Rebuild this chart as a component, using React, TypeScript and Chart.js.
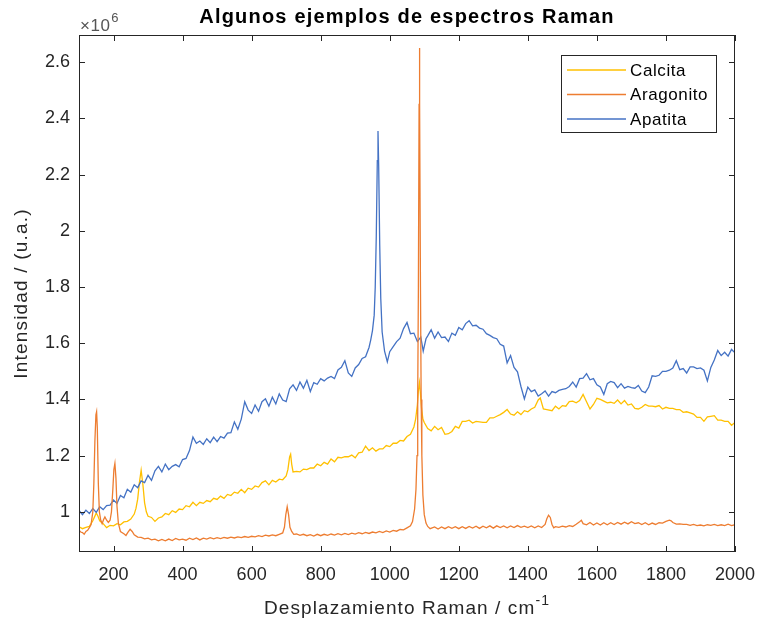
import React, { useEffect, useRef } from "react";
import { Chart, registerables } from "chart.js";

Chart.register(...registerables);

// Raman shift (cm^-1) and intensity (x10^6 a.u.) pairs
const calcita: [number, number][] = [
  [100, 0.947], [110, 0.94], [120, 0.945], [130, 0.948], [140, 0.968], [145, 0.982], [150, 0.996], [155, 0.984],
  [160, 0.968], [170, 0.958], [180, 0.944], [190, 0.952], [200, 0.95], [210, 0.958], [220, 0.954], [230, 0.964],
  [240, 0.966], [250, 0.974], [260, 0.992], [265, 1.012], [270, 1.045], [275, 1.105], [280, 1.148], [285, 1.098],
  [290, 1.032], [295, 1.0], [300, 0.984], [310, 0.98], [320, 0.966], [330, 0.978], [340, 0.982], [350, 0.994],
  [360, 0.99], [370, 1.004], [380, 0.998], [390, 1.01], [400, 1.008], [410, 1.022], [420, 1.018], [430, 1.034],
  [440, 1.022], [450, 1.034], [460, 1.03], [470, 1.04], [480, 1.036], [490, 1.048], [500, 1.044], [510, 1.056],
  [520, 1.048], [530, 1.062], [540, 1.058], [550, 1.07], [560, 1.066], [570, 1.08], [580, 1.068], [590, 1.084],
  [600, 1.08], [610, 1.092], [620, 1.088], [630, 1.104], [640, 1.11], [650, 1.096], [660, 1.112], [670, 1.106],
  [680, 1.116], [690, 1.114], [700, 1.128], [705, 1.15], [710, 1.195], [713, 1.205], [716, 1.17], [720, 1.142],
  [730, 1.144], [740, 1.142], [750, 1.152], [760, 1.15], [770, 1.156], [780, 1.156], [790, 1.17], [800, 1.164],
  [810, 1.176], [820, 1.17], [830, 1.188], [840, 1.178], [850, 1.194], [860, 1.192], [870, 1.196], [880, 1.196],
  [890, 1.202], [900, 1.192], [910, 1.21], [920, 1.212], [930, 1.234], [940, 1.218], [950, 1.228], [960, 1.216],
  [970, 1.224], [980, 1.224], [990, 1.236], [1000, 1.232], [1010, 1.244], [1020, 1.244], [1030, 1.254], [1040, 1.252],
  [1050, 1.268], [1060, 1.276], [1070, 1.302], [1075, 1.33], [1080, 1.38], [1083, 1.43], [1086, 1.46], [1089, 1.42],
  [1092, 1.37], [1096, 1.33], [1100, 1.318], [1110, 1.296], [1120, 1.288], [1130, 1.304], [1140, 1.292], [1150, 1.3],
  [1160, 1.276], [1170, 1.278], [1180, 1.286], [1190, 1.304], [1200, 1.298], [1210, 1.322], [1220, 1.322], [1230, 1.326],
  [1240, 1.316], [1250, 1.322], [1260, 1.32], [1270, 1.318], [1280, 1.318], [1290, 1.334], [1300, 1.334], [1310, 1.34],
  [1320, 1.346], [1330, 1.354], [1340, 1.364], [1350, 1.348], [1360, 1.344], [1370, 1.356], [1380, 1.346], [1390, 1.36],
  [1400, 1.356], [1410, 1.366], [1420, 1.372], [1430, 1.398], [1436, 1.405], [1445, 1.366], [1455, 1.364], [1470, 1.36],
  [1480, 1.376], [1490, 1.366], [1500, 1.378], [1510, 1.376], [1520, 1.392], [1530, 1.394], [1540, 1.388], [1550, 1.396],
  [1560, 1.418], [1570, 1.392], [1580, 1.366], [1590, 1.382], [1600, 1.404], [1610, 1.4], [1620, 1.394], [1630, 1.388],
  [1640, 1.39], [1650, 1.386], [1660, 1.398], [1670, 1.384], [1680, 1.396], [1690, 1.38], [1700, 1.384], [1710, 1.368],
  [1720, 1.366], [1730, 1.372], [1740, 1.382], [1750, 1.376], [1760, 1.376], [1770, 1.374], [1780, 1.378], [1790, 1.366],
  [1800, 1.372], [1810, 1.368], [1820, 1.368], [1830, 1.364], [1840, 1.364], [1850, 1.354], [1860, 1.356], [1870, 1.352],
  [1880, 1.348], [1890, 1.336], [1900, 1.336], [1910, 1.322], [1920, 1.338], [1930, 1.34], [1940, 1.342], [1950, 1.326],
  [1960, 1.326], [1970, 1.322], [1980, 1.322], [1990, 1.308], [2000, 1.318],
];

const aragonito: [number, number][] = [
  [100, 0.935], [105, 0.928], [110, 0.926], [115, 0.92], [120, 0.93], [125, 0.934], [130, 0.944], [135, 0.955],
  [140, 1.0], [143, 1.1], [146, 1.25], [149, 1.345], [151, 1.356], [153, 1.3], [156, 1.1], [159, 1.0],
  [163, 0.97], [167, 0.958], [171, 0.972], [175, 0.982], [180, 0.97], [185, 0.962], [190, 0.97], [194, 1.0],
  [198, 1.08], [201, 1.15], [204, 1.172], [207, 1.12], [210, 1.02], [214, 0.96], [220, 0.93], [230, 0.922],
  [236, 0.916], [242, 0.928], [248, 0.938], [254, 0.93], [260, 0.918], [270, 0.91], [280, 0.909], [290, 0.904],
  [300, 0.906], [310, 0.9], [320, 0.903], [330, 0.897], [340, 0.902], [350, 0.897], [360, 0.903], [370, 0.898],
  [380, 0.905], [390, 0.9], [400, 0.903], [410, 0.899], [420, 0.906], [430, 0.901], [440, 0.907], [450, 0.9],
  [460, 0.906], [470, 0.903], [480, 0.908], [490, 0.904], [500, 0.908], [510, 0.905], [520, 0.909], [530, 0.906],
  [540, 0.91], [550, 0.907], [560, 0.911], [570, 0.908], [580, 0.912], [590, 0.909], [600, 0.913], [610, 0.911],
  [620, 0.915], [630, 0.912], [640, 0.917], [650, 0.914], [660, 0.918], [670, 0.915], [680, 0.92], [690, 0.925],
  [695, 0.945], [699, 0.99], [703, 1.018], [707, 0.99], [711, 0.945], [716, 0.93], [722, 0.92], [730, 0.921],
  [740, 0.916], [750, 0.92], [760, 0.915], [770, 0.919], [780, 0.914], [790, 0.92], [800, 0.915], [810, 0.92],
  [820, 0.916], [830, 0.921], [840, 0.917], [850, 0.922], [860, 0.918], [870, 0.923], [880, 0.919], [890, 0.924],
  [900, 0.921], [910, 0.926], [920, 0.922], [930, 0.927], [940, 0.923], [950, 0.928], [960, 0.925], [970, 0.93],
  [980, 0.926], [990, 0.932], [1000, 0.928], [1010, 0.934], [1020, 0.931], [1030, 0.937], [1040, 0.936], [1050, 0.943],
  [1060, 0.95], [1066, 0.965], [1072, 1.01], [1076, 1.08], [1079, 1.2], [1081, 1.4], [1083, 1.8], [1085, 2.45],
  [1086, 2.651], [1087, 2.45], [1089, 1.8], [1091, 1.4], [1093, 1.2], [1096, 1.06], [1100, 0.99], [1105, 0.96],
  [1110, 0.948], [1117, 0.94], [1130, 0.946], [1140, 0.939], [1150, 0.946], [1160, 0.94], [1170, 0.947], [1180, 0.941],
  [1190, 0.947], [1200, 0.94], [1210, 0.947], [1220, 0.941], [1230, 0.948], [1240, 0.942], [1250, 0.949], [1260, 0.941],
  [1270, 0.949], [1280, 0.943], [1290, 0.95], [1300, 0.942], [1310, 0.95], [1320, 0.944], [1330, 0.95], [1340, 0.943],
  [1350, 0.95], [1360, 0.944], [1370, 0.951], [1380, 0.945], [1390, 0.949], [1400, 0.944], [1410, 0.95], [1420, 0.943],
  [1430, 0.95], [1440, 0.944], [1450, 0.955], [1455, 0.975], [1460, 0.988], [1465, 0.98], [1470, 0.955], [1475, 0.943],
  [1480, 0.947], [1490, 0.945], [1500, 0.949], [1510, 0.946], [1520, 0.951], [1530, 0.948], [1540, 0.956], [1550, 0.965],
  [1555, 0.97], [1560, 0.958], [1570, 0.954], [1580, 0.962], [1590, 0.953], [1600, 0.96], [1610, 0.953], [1620, 0.961],
  [1630, 0.954], [1640, 0.961], [1650, 0.955], [1660, 0.962], [1670, 0.956], [1680, 0.963], [1690, 0.957], [1700, 0.965],
  [1710, 0.958], [1720, 0.961], [1730, 0.955], [1740, 0.961], [1750, 0.954], [1760, 0.96], [1770, 0.955], [1780, 0.961],
  [1790, 0.96], [1800, 0.966], [1810, 0.97], [1815, 0.968], [1820, 0.962], [1830, 0.956], [1840, 0.957], [1850, 0.955],
  [1860, 0.955], [1870, 0.952], [1880, 0.955], [1890, 0.951], [1900, 0.953], [1910, 0.95], [1920, 0.954], [1930, 0.952],
  [1940, 0.955], [1950, 0.951], [1960, 0.954], [1970, 0.951], [1980, 0.956], [1990, 0.951], [2000, 0.954],
];

const apatita: [number, number][] = [
  [100, 1.005], [110, 0.99], [120, 1.006], [130, 0.994], [140, 1.012], [150, 0.998], [160, 1.018], [170, 1.008],
  [180, 1.022], [190, 1.024], [200, 1.042], [210, 1.03], [220, 1.058], [230, 1.05], [240, 1.08], [250, 1.07],
  [260, 1.096], [270, 1.086], [280, 1.11], [290, 1.104], [300, 1.13], [310, 1.112], [320, 1.146], [330, 1.162],
  [340, 1.142], [350, 1.17], [360, 1.15], [370, 1.162], [380, 1.168], [390, 1.16], [400, 1.186], [410, 1.19],
  [420, 1.218], [430, 1.266], [440, 1.244], [450, 1.252], [460, 1.24], [470, 1.26], [480, 1.246], [490, 1.266],
  [500, 1.25], [510, 1.268], [520, 1.262], [530, 1.28], [540, 1.282], [550, 1.32], [560, 1.294], [570, 1.33],
  [580, 1.392], [590, 1.362], [600, 1.35], [610, 1.38], [620, 1.358], [630, 1.392], [640, 1.402], [650, 1.376],
  [660, 1.408], [670, 1.384], [680, 1.42], [690, 1.398], [700, 1.392], [710, 1.438], [720, 1.452], [730, 1.432],
  [740, 1.462], [750, 1.44], [760, 1.468], [770, 1.428], [780, 1.46], [790, 1.454], [800, 1.474], [810, 1.466],
  [820, 1.476], [830, 1.482], [840, 1.474], [850, 1.505], [860, 1.514], [870, 1.538], [880, 1.494], [890, 1.482],
  [900, 1.512], [910, 1.524], [920, 1.546], [930, 1.552], [940, 1.585], [945, 1.612], [950, 1.645], [955, 1.7],
  [958, 1.8], [961, 1.98], [964, 2.25], [966, 2.355], [968, 2.23], [971, 1.95], [974, 1.76], [978, 1.64],
  [985, 1.572], [993, 1.534], [1000, 1.57], [1010, 1.588], [1020, 1.606], [1030, 1.618], [1040, 1.652], [1050, 1.674],
  [1060, 1.634], [1070, 1.636], [1080, 1.606], [1090, 1.622], [1097, 1.572], [1105, 1.616], [1110, 1.626], [1120, 1.648],
  [1130, 1.618], [1140, 1.64], [1150, 1.62], [1160, 1.622], [1170, 1.606], [1180, 1.636], [1190, 1.628], [1200, 1.656],
  [1210, 1.648], [1220, 1.67], [1230, 1.68], [1240, 1.662], [1250, 1.664], [1260, 1.654], [1270, 1.65], [1280, 1.634],
  [1290, 1.628], [1300, 1.62], [1310, 1.616], [1320, 1.596], [1330, 1.59], [1340, 1.53], [1350, 1.556], [1360, 1.514],
  [1370, 1.498], [1380, 1.446], [1390, 1.402], [1400, 1.444], [1410, 1.428], [1420, 1.434], [1430, 1.412], [1440, 1.42],
  [1450, 1.43], [1460, 1.412], [1470, 1.428], [1480, 1.424], [1490, 1.432], [1500, 1.436], [1510, 1.438], [1520, 1.446],
  [1530, 1.462], [1540, 1.444], [1550, 1.474], [1560, 1.476], [1570, 1.492], [1580, 1.47], [1590, 1.474], [1600, 1.452],
  [1610, 1.444], [1620, 1.418], [1630, 1.456], [1640, 1.464], [1650, 1.46], [1660, 1.442], [1670, 1.456], [1680, 1.44],
  [1690, 1.446], [1700, 1.442], [1710, 1.44], [1720, 1.45], [1730, 1.43], [1740, 1.424], [1750, 1.444], [1760, 1.484],
  [1770, 1.482], [1780, 1.486], [1790, 1.5], [1800, 1.5], [1810, 1.504], [1820, 1.512], [1830, 1.538], [1840, 1.506],
  [1850, 1.51], [1860, 1.494], [1870, 1.516], [1880, 1.516], [1890, 1.51], [1900, 1.512], [1910, 1.504], [1920, 1.466],
  [1930, 1.514], [1940, 1.54], [1950, 1.574], [1960, 1.556], [1970, 1.568], [1980, 1.554], [1990, 1.578], [2000, 1.566],
];

const xTicks = [200, 400, 600, 800, 1000, 1200, 1400, 1600, 1800, 2000];
const yTicks = [1, 1.2, 1.4, 1.6, 1.8, 2, 2.2, 2.4, 2.6];

const seriesLabels = ["Calcita", "Aragonito", "Apatita"];
const seriesColors = ["#FFC000", "#ED7D31", "#4472C4"];

const AXIS_COLOR = "#262626";
const FONT = "'Liberation Sans', Arial, Helvetica, sans-serif";

const decorPlugin = {
  id: "matlabDecor",
  afterDraw(chart: any) {
    const { ctx, chartArea, scales } = chart;
    const { left, right, top, bottom } = chartArea;
    const xs = scales.x;
    const ys = scales.y;
    ctx.save();
    ctx.strokeStyle = AXIS_COLOR;
    ctx.lineWidth = 1;
    ctx.strokeRect(left + 0.5, top + 0.5, right - left - 1, bottom - top - 1);
    const tl = 6;
    ctx.beginPath();
    for (const v of xTicks) {
      const px = Math.round(xs.getPixelForValue(v)) + 0.5;
      ctx.moveTo(px, bottom);
      ctx.lineTo(px, bottom - tl);
      ctx.moveTo(px, top);
      ctx.lineTo(px, top + tl);
    }
    for (const v of yTicks) {
      const py = Math.round(ys.getPixelForValue(v)) + 0.5;
      ctx.moveTo(left, py);
      ctx.lineTo(left + tl, py);
      ctx.moveTo(right, py);
      ctx.lineTo(right - tl, py);
    }
    ctx.stroke();

    const cx = (left + right) / 2;
    ctx.fillStyle = "#000";
    ctx.textAlign = "center";
    ctx.textBaseline = "middle";
    ctx.font = `bold 20px ${FONT}`;
    (ctx as any).letterSpacing = "1.2px";
    ctx.fillText("Algunos ejemplos de espectros Raman", cx, 17);

    ctx.fillStyle = AXIS_COLOR;
    ctx.font = `19px ${FONT}`;
    (ctx as any).letterSpacing = "1.1px";
    const main = "Desplazamiento Raman / cm";
    const wMain = ctx.measureText(main).width;
    ctx.font = `14px ${FONT}`;
    const sup = "-1";
    const wSup = ctx.measureText(sup).width;
    const startX = cx - (wMain + wSup) / 2;
    ctx.textAlign = "left";
    ctx.font = `19px ${FONT}`;
    ctx.fillText(main, startX, 609);
    ctx.font = `14px ${FONT}`;
    ctx.fillText(sup, startX + wMain, 601);

    ctx.save();
    ctx.translate(22, (top + bottom) / 2);
    ctx.rotate(-Math.PI / 2);
    ctx.textAlign = "center";
    ctx.font = `19px ${FONT}`;
    (ctx as any).letterSpacing = "1.2px";
    ctx.fillText("Intensidad / (u.a.)", 0, 0);
    ctx.restore();

    (ctx as any).letterSpacing = "0.5px";
    ctx.textAlign = "left";
    ctx.textBaseline = "alphabetic";
    ctx.fillStyle = "#555";
    ctx.font = `17px ${FONT}`;
    ctx.fillText("\u00d710", 80, 31);
    const w10 = ctx.measureText("\u00d710").width;
    ctx.font = `13px ${FONT}`;
    ctx.fillText("6", 80 + w10 + 1, 22);

    (ctx as any).letterSpacing = "0.6px";
    const lx = 561.5, ly = 55.5, lw = 155, lh = 77;
    ctx.fillStyle = "#fff";
    ctx.fillRect(lx, ly, lw, lh);
    ctx.strokeStyle = AXIS_COLOR;
    ctx.lineWidth = 1;
    ctx.strokeRect(lx, ly, lw, lh);
    const rows = [70, 94.5, 119];
    ctx.font = `17px ${FONT}`;
    ctx.textBaseline = "middle";
    seriesLabels.forEach((lab, i) => {
      ctx.strokeStyle = seriesColors[i];
      ctx.lineWidth = 1.3;
      ctx.beginPath();
      ctx.moveTo(567, rows[i]);
      ctx.lineTo(626, rows[i]);
      ctx.stroke();
      ctx.fillStyle = "#000";
      ctx.fillText(lab, 630, rows[i] + 1);
    });
    ctx.restore();
  },
};

export default function App() {
  const canvasRef = useRef<HTMLCanvasElement | null>(null);

  useEffect(() => {
    if (!canvasRef.current) return;
    const toPoints = (arr: [number, number][]) => arr.map(([x, y]) => ({ x, y }));
    const mk = (i: number, arr: [number, number][], order: number) => ({
      label: seriesLabels[i],
      data: toPoints(arr),
      borderColor: seriesColors[i],
      borderWidth: 1.3,
      pointRadius: 0,
      order,
    });
    const chart = new Chart(canvasRef.current, {
      type: "line",
      data: {
        datasets: [mk(1, aragonito, 0), mk(2, apatita, 1), mk(0, calcita, 2)],
      },
      options: {
        animation: false,
        responsive: false,
        devicePixelRatio: 1,
        parsing: false as any,
        layout: { padding: { left: 0, right: 23, top: 35, bottom: 0 } },
        plugins: {
          legend: { display: false },
          tooltip: { enabled: false },
          title: { display: false },
        },
        scales: {
          x: {
            type: "linear",
            min: 100,
            max: 2000,
            grid: { display: false, drawTicks: false },
            border: { display: false },
            afterBuildTicks: (scale: any) => {
              scale.ticks = xTicks.map((v) => ({ value: v }));
            },
            afterFit: (scale: any) => {
              scale.height = 74;
              scale.paddingLeft = 0;
              scale.paddingRight = 0;
            },
            ticks: {
              autoSkip: false,
              maxRotation: 0,
              padding: 12,
              color: AXIS_COLOR,
              font: { size: 18, family: FONT },
              callback: (v: any) => String(v),
            },
          },
          y: {
            type: "linear",
            min: 0.857,
            max: 2.697,
            grid: { display: false, drawTicks: false },
            border: { display: false },
            afterBuildTicks: (scale: any) => {
              scale.ticks = yTicks.map((v) => ({ value: v }));
            },
            afterFit: (scale: any) => {
              scale.width = 79;
              scale.paddingTop = 0;
              scale.paddingBottom = 0;
            },
            ticks: {
              autoSkip: false,
              padding: 9,
              color: AXIS_COLOR,
              font: { size: 18, family: FONT },
              callback: (v: any) => String(Math.round(Number(v) * 10) / 10),
            },
          },
        },
      },
      plugins: [decorPlugin],
    });
    return () => chart.destroy();
  }, []);

  return (
    <div style={{ position: "absolute", left: 0, top: 0, width: 758, height: 626, background: "#fff" }}>
      <canvas ref={canvasRef} width={758} height={626} style={{ display: "block", width: 758, height: 626 }} />
    </div>
  );
}
